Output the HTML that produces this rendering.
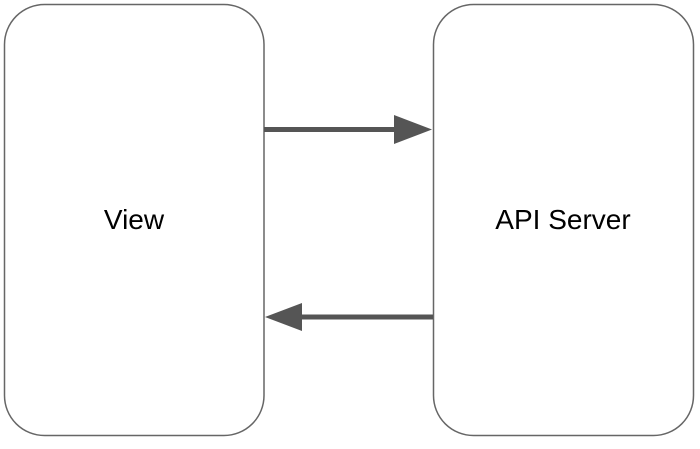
<!DOCTYPE html>
<html><head><style>body{margin:0;background:#fff}</style></head><body>
<svg width="700" height="444" xmlns="http://www.w3.org/2000/svg">
<rect x="4.5" y="4.5" width="259.5" height="431" rx="40" ry="40" fill="#fff" stroke="#666" stroke-width="1.5"/>
<rect x="433.5" y="4.5" width="260" height="431" rx="40" ry="40" fill="#fff" stroke="#666" stroke-width="1.5"/>
<line x1="264" y1="129.5" x2="396" y2="129.5" stroke="#555" stroke-width="5"/>
<polygon points="394,115 432,129.5 394,144" fill="#555"/>
<line x1="300" y1="317" x2="433" y2="317" stroke="#555" stroke-width="5"/>
<polygon points="302,303 265,317 302,331" fill="#555"/>
<text x="134" y="229" font-family="Liberation Sans, sans-serif" font-size="28" text-anchor="middle" fill="#000">View</text>
<text x="563" y="229" font-family="Liberation Sans, sans-serif" font-size="28" text-anchor="middle" fill="#000">API Server</text>
</svg>
</body></html>
